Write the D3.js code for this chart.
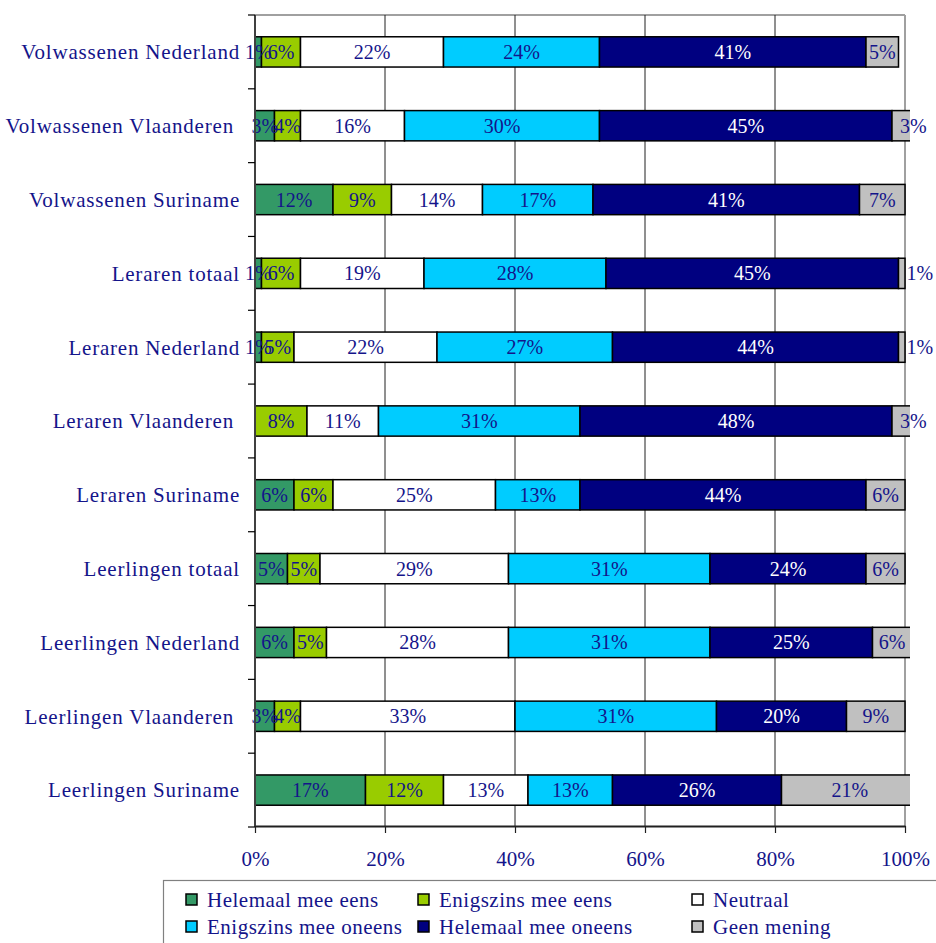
<!DOCTYPE html>
<html>
<head>
<meta charset="utf-8">
<script src="https://cdn.jsdelivr.net/npm/d3@7"></script>
<style>
  html, body { margin: 0; padding: 0; background: #fff; }
  svg { display: block; }
  text { font-family: "Liberation Serif", "DejaVu Serif", serif; fill: #14148a; }
</style>
</head>
<body>
<svg id="chart" width="936" height="943"></svg>
<script>
// Survey answers per group (percentages)
const categories = [
  "Volwassenen Nederland",
  "Volwassenen Vlaanderen ",
  "Volwassenen Suriname",
  "Leraren totaal",
  "Leraren Nederland",
  "Leraren Vlaanderen ",
  "Leraren Suriname",
  "Leerlingen totaal",
  "Leerlingen Nederland",
  "Leerlingen Vlaanderen ",
  "Leerlingen Suriname"
];
const seriesNames = [
  "Helemaal mee eens",
  "Enigszins mee eens",
  "Neutraal",
  "Enigszins mee oneens",
  "Helemaal mee oneens",
  "Geen mening"
];
const helemaalEens    = [1, 3, 12, 1, 1, 0, 6, 5, 6, 3, 17];
const enigszinsEens   = [6, 4, 9, 6, 5, 8, 6, 5, 5, 4, 12];
const neutraal        = [22, 16, 14, 19, 22, 11, 25, 29, 28, 33, 13];
const enigszinsOneens = [24, 30, 17, 28, 27, 31, 13, 31, 31, 31, 13];
const helemaalOneens  = [41, 45, 41, 45, 44, 48, 44, 24, 25, 20, 26];
const geenMening      = [5, 3, 7, 1, 1, 3, 6, 6, 6, 9, 21];
const xTicks = [0, 20, 40, 60, 80, 100];

const seriesValues = [helemaalEens, enigszinsEens, neutraal, enigszinsOneens, helemaalOneens, geenMening];
const colors = ["#339966", "#99cc00", "#ffffff", "#00ccff", "#000080", "#c0c0c0"];
const labelColors = ["#14148a", "#14148a", "#14148a", "#14148a", "#ffffff", "#14148a"];

const rows = categories.map((c, i) => {
  const r = { cat: c };
  seriesNames.forEach((s, j) => { r[s] = seriesValues[j][i]; });
  return r;
});
const stacked = d3.stack().keys(seriesNames)(rows);

const svg = d3.select("#chart");
const plot = { left: 255, right: 905, top: 15, bottom: 827 };

const x = d3.scaleLinear().domain([0, 100]).range([plot.left, plot.right]);
const y = d3.scaleBand().domain(categories).range([plot.top, plot.bottom])
  .paddingInner(0.59).paddingOuter(0.295);

// frame: top and right border
svg.append("line").attr("x1", plot.left).attr("x2", plot.right)
  .attr("y1", plot.top).attr("y2", plot.top)
  .attr("stroke", "#a0a0a0").attr("stroke-width", 2);
svg.append("line").attr("x1", plot.right).attr("x2", plot.right)
  .attr("y1", plot.top).attr("y2", plot.bottom)
  .attr("stroke", "#a0a0a0").attr("stroke-width", 2);

// vertical gridlines
svg.append("g").selectAll("line")
  .data(xTicks.filter(t => t > 0 && t < 100))
  .join("line")
  .attr("x1", d => x(d)).attr("x2", d => x(d))
  .attr("y1", plot.top).attr("y2", plot.bottom)
  .attr("stroke", "#202020").attr("stroke-width", 1);

// bars, clipped a little past the 100% line
svg.append("clipPath").attr("id", "barclip")
  .append("rect")
  .attr("x", plot.left - 2).attr("y", plot.top)
  .attr("width", x(100) - plot.left + 7).attr("height", plot.bottom - plot.top);

const barG = svg.append("g").attr("clip-path", "url(#barclip)");
stacked.forEach((layer, j) => {
  barG.append("g").selectAll("rect")
    .data(layer.filter(d => d[1] - d[0] > 0))
    .join("rect")
    .attr("x", d => x(d[0]))
    .attr("y", d => y(d.data.cat))
    .attr("width", d => x(d[1]) - x(d[0]))
    .attr("height", y.bandwidth())
    .attr("fill", colors[j])
    .attr("stroke", "#000")
    .attr("stroke-width", 1.5);
});

// value labels
const labelG = svg.append("g");
stacked.forEach((layer, j) => {
  const last = j === seriesNames.length - 1;
  labelG.append("g").selectAll("text")
    .data(layer.filter(d => d[1] - d[0] > 0))
    .join("text")
    .each(function(d) {
      const v = d[1] - d[0];
      const t = d3.select(this)
        .attr("y", y(d.data.cat) + y.bandwidth() / 2)
        .attr("dy", "0.35em")
        .style("font-size", "20px")
        .style("fill", labelColors[j])
        .text(v + "%");
      const w = this.getComputedTextLength();
      if (last && x(d[1]) - x(d[0]) < w) {
        t.attr("x", x(d[0]) + 8).attr("text-anchor", "start");
      } else {
        t.attr("x", (x(d[0]) + x(d[1])) / 2).attr("text-anchor", "middle");
      }
    });
});

// y axis: line, ticks at band boundaries, category labels
const step = y.step();
const yAxis = svg.append("g");
yAxis.append("line")
  .attr("x1", plot.left).attr("x2", plot.left)
  .attr("y1", plot.top).attr("y2", plot.bottom)
  .attr("stroke", "#404040").attr("stroke-width", 2);
yAxis.selectAll("line.tick")
  .data(d3.range(categories.length + 1))
  .join("line").attr("class", "tick")
  .attr("x1", plot.left - 7).attr("x2", plot.left)
  .attr("y1", i => plot.top + i * step).attr("y2", i => plot.top + i * step)
  .attr("stroke", "#000").attr("stroke-width", 1.2);
yAxis.selectAll("text")
  .data(categories)
  .join("text")
  .attr("x", 240)
  .attr("y", d => y(d) + y.bandwidth() / 2)
  .attr("dy", "0.35em")
  .attr("text-anchor", "end")
  .style("font-size", "21px")
  .style("letter-spacing", "0.8px")
  .style("white-space", "pre")
  .text(d => d);

// x axis
const xAxis = svg.append("g")
  .attr("transform", `translate(0,${plot.bottom - 1})`)
  .call(d3.axisBottom(x).tickValues(xTicks).tickFormat(d => d + "%").tickSize(7).tickSizeOuter(0));
xAxis.select(".domain").attr("stroke", "#202020").attr("stroke-width", 2);
xAxis.selectAll(".tick line").attr("stroke", "#202020").attr("stroke-width", 1.2);
xAxis.selectAll(".tick text")
  .attr("y", 25)
  .style("font-size", "21px")
  .style("fill", "#14148a");

// legend
const legend = svg.append("g");
legend.append("rect")
  .attr("x", 163.5).attr("y", 880.5)
  .attr("width", 800).attr("height", 100)
  .attr("fill", "#fff").attr("stroke", "#808080").attr("stroke-width", 1.2);
const colX = [186, 418, 692];
const rowY = [900, 927];
seriesNames.forEach((name, j) => {
  const cx = colX[j % 3], cy = rowY[Math.floor(j / 3)];
  legend.append("rect")
    .attr("x", cx).attr("y", cy - 6)
    .attr("width", 11).attr("height", 11)
    .attr("fill", colors[j]).attr("stroke", "#000").attr("stroke-width", 1.5);
  legend.append("text")
    .attr("x", cx + 21).attr("y", cy)
    .attr("dy", "0.35em")
    .style("font-size", "21px")
    .style("letter-spacing", "0.5px")
    .text(name);
});
</script>
</body>
</html>
